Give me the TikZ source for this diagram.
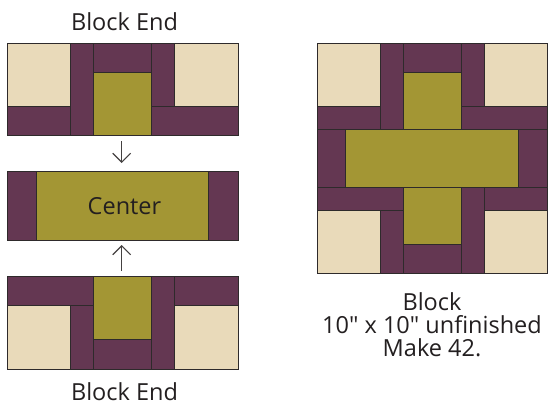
\documentclass[tikz,border=0pt]{standalone}
\usepackage{fontspec}
\setmainfont{Open Sans}[Ligatures=TeXOff]
\usetikzlibrary{arrows.meta}
\definecolor{plum}{HTML}{643752}
\definecolor{olive}{HTML}{A39634}
\definecolor{cream}{HTML}{E9DABA}
\definecolor{edge}{HTML}{2E2A2B}
\definecolor{ink}{HTML}{231F20}
\tikzset{
  pc/.style={draw=edge, line width=0.8pt},
  pp/.style={pc, fill=plum},
  pg/.style={pc, fill=olive},
  pw/.style={pc, fill=cream},
  lbl/.style={font=\fontsize{23.5}{23.3}\selectfont, text=ink, inner sep=0pt},
  joinarrow/.style={draw=ink!85, line width=1.1pt, -{Straight Barb[length=9pt,width=18pt,line width=1.1pt]}}
}
\begin{document}
\begin{tikzpicture}[x=1pt,y=-1pt]
\useasboundingbox (0,0) rectangle (548,408);
% ---------- top block end ----------
\draw[pw] (7,43) rectangle (70,106);
\draw[pp] (7,106) rectangle (70,135);
\draw[pp] (70,43) rectangle (93,135);
\draw[pp] (93,43) rectangle (151,72);
\draw[pg] (93,72) rectangle (151,135);
\draw[pp] (151,43) rectangle (174,106);
\draw[pw] (174,43) rectangle (238,106);
\draw[pp] (151,106) rectangle (238,135);
\coordinate (topend) at (121.7,135);
% ---------- center strip ----------
\draw[pp] (7,171) rectangle (36,240);
\draw[pg] (36,171) rectangle (208,240);
\draw[pp] (208,171) rectangle (238,240);
\node[lbl, anchor=base] (center) at (124.5,214.3) {Center};
\coordinate (centertop) at (121.7,171);
\coordinate (centerbot) at (121.7,240);
% ---------- bottom block end ----------
\draw[pp] (7,276) rectangle (93,305);
\draw[pw] (7,305) rectangle (70,369);
\draw[pp] (70,305) rectangle (93,369);
\draw[pg] (93,276) rectangle (151,339);
\draw[pp] (93,339) rectangle (151,369);
\draw[pp] (151,276) rectangle (174,369);
\draw[pp] (174,276) rectangle (238,305);
\draw[pw] (174,305) rectangle (238,369);
\coordinate (botend) at (121.7,276);
% ---------- arrows ----------
\draw[joinarrow, shorten <=6pt, shorten >=8pt] (topend) -- (centertop);
\draw[joinarrow, shorten <=5pt, shorten >=5pt] (botend) -- (centerbot);
% ---------- labels ----------
\node[lbl, anchor=base] (toplabel) at (124.5,30) {Block End};
\node[lbl, anchor=base] (botlabel) at (124.5,400.7) {Block End};
% ---------- full block ----------
\draw[pw] (317,43) rectangle (380,106);
\draw[pp] (317,106) rectangle (380,129);
\draw[pp] (380,43) rectangle (403,129);
\draw[pp] (403,43) rectangle (461,72);
\draw[pg] (403,72) rectangle (461,129);
\draw[pp] (461,43) rectangle (484,106);
\draw[pw] (484,43) rectangle (547,106);
\draw[pp] (461,106) rectangle (547,129);
\draw[pp] (317,129) rectangle (345,187);
\draw[pg] (345,129) rectangle (518,187);
\draw[pp] (518,129) rectangle (547,187);
\draw[pp] (317,187) rectangle (403,210);
\draw[pw] (317,210) rectangle (380,273);
\draw[pp] (380,210) rectangle (403,273);
\draw[pg] (403,187) rectangle (461,244);
\draw[pp] (403,244) rectangle (461,273);
\draw[pp] (461,187) rectangle (484,273);
\draw[pp] (484,187) rectangle (547,210);
\draw[pw] (484,210) rectangle (547,273);
\node[lbl, anchor=base, align=center] (blocklabel) at (432,356.7) {Block\\10" x 10" unfinished\\Make 42.};
\end{tikzpicture}
\end{document}
